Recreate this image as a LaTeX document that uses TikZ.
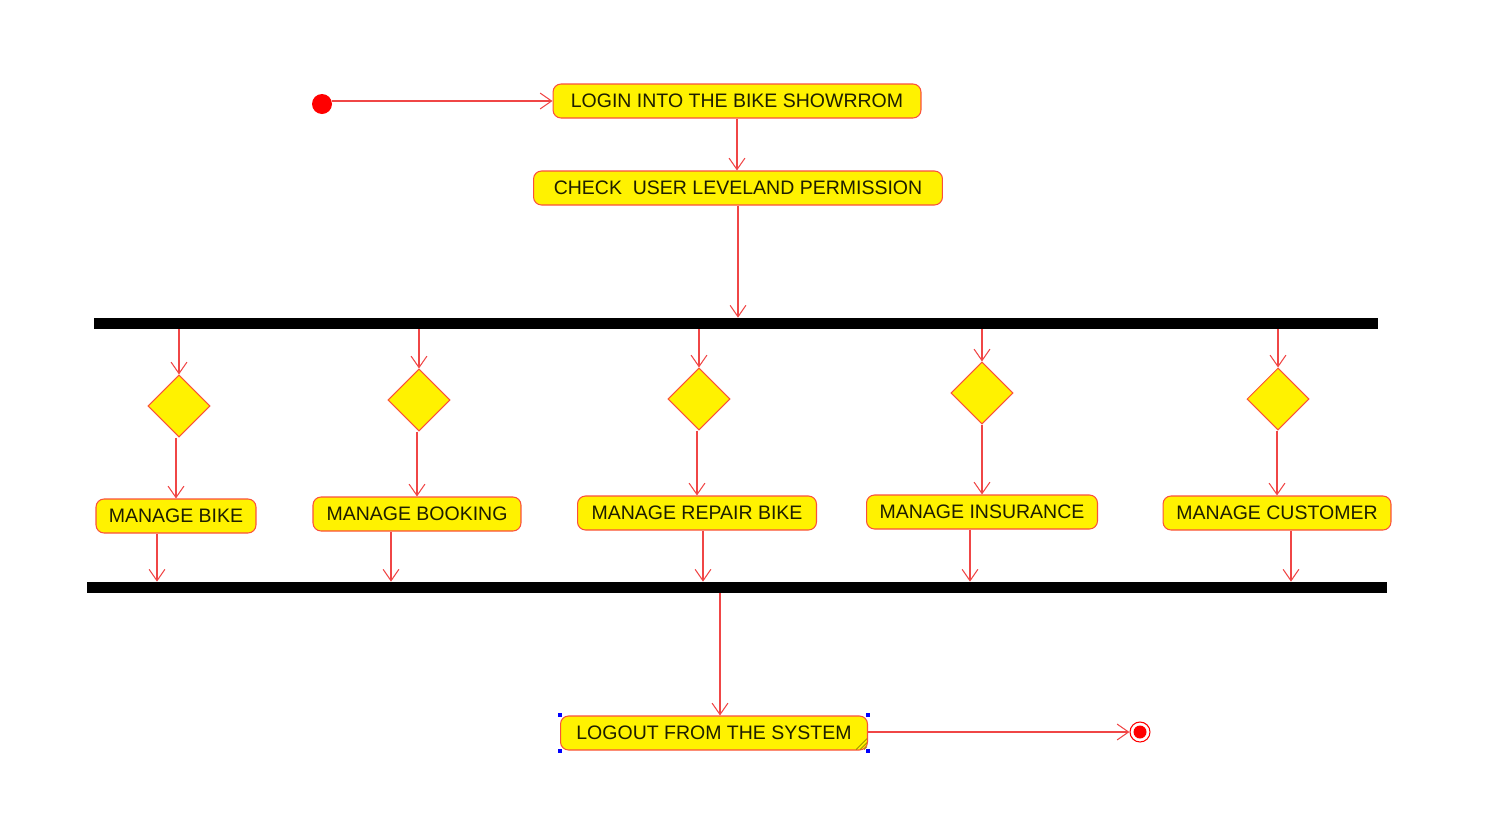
\documentclass[tikz,border=0pt]{standalone}
\usepackage{fontspec}
\setmainfont{Liberation Sans}
\usetikzlibrary{arrows.meta,shapes.geometric}

\definecolor{flowred}{RGB}{240,70,70}
\definecolor{boxred}{RGB}{250,80,60}
\definecolor{inktext}{RGB}{30,30,0}

\tikzset{
  act/.style={rectangle, rounded corners=0.16cm, draw=boxred, fill=yellow, line width=0.6pt,
    minimum height=0.68cm, inner sep=0pt, text=inktext, font=\fontsize{11.1}{13}\selectfont},
  choice/.style={diamond, draw=boxred, fill=yellow, line width=0.6pt,
    minimum width=1.24cm, minimum height=1.24cm, inner sep=0pt},
  bar/.style={rectangle, fill=black, minimum height=0.22cm, inner sep=0pt},
  startst/.style={circle, fill=red, minimum size=0.4cm, inner sep=0pt},
  endst/.style={circle, draw=red, fill=white, line width=0.6pt, minimum size=0.4cm, inner sep=0pt,
    path picture={\fill[red] (path picture bounding box.center) circle (0.13cm);}},
  flow/.style={draw=flowred, line width=0.6pt, -{Straight Barb[length=6.5pt,width=9pt]}},
}

\begin{document}
\begin{tikzpicture}[x=0.02cm, y=-0.02cm]
    \useasboundingbox (0,0) rectangle (1488,836);
    % top
    \node[startst] (init) at (322,104) {};
    \node[act, minimum width=7.36cm] (login) at (737,101) {LOGIN INTO THE BIKE SHOWRROM};
    \node[act, minimum width=8.18cm] (check) at (738,188) {CHECK\ \ USER LEVELAND PERMISSION};
    \node[bar, minimum width=25.68cm] (bar1) at (736,323.5) {};
    % decisions and activities
    \node[choice] (d1) at (179,406) {};
    \node[choice] (d2) at (419,400) {};
    \node[choice] (d3) at (699,399) {};
    \node[choice] (d4) at (982,393) {};
    \node[choice] (d5) at (1278,399) {};
    \node[act, minimum width=3.2cm] (b1) at (176,516) {MANAGE BIKE};
    \node[act, minimum width=4.16cm] (b2) at (417,514) {MANAGE BOOKING};
    \node[act, minimum width=4.78cm] (b3) at (697,513) {MANAGE REPAIR BIKE};
    \node[act, minimum width=4.62cm] (b4) at (982,512) {MANAGE INSURANCE};
    \node[act, minimum width=4.56cm] (b5) at (1277,513) {MANAGE CUSTOMER};
    \node[bar, minimum width=26cm] (bar2) at (737,587.5) {};
    % bottom
    \node[act, minimum width=6.14cm] (logout) at (714,733) {LOGOUT FROM THE SYSTEM};
    \node[endst] (final) at (1140,732) {};

    \draw[flow] (init.east |- login.west) -- (login.west);
    \draw[flow] (login.south) -- (login.south |- check.north);
    \draw[flow] (check.south) -- (check.south |- bar1.north);
    \foreach \d/\b/\dx in {d1/b1/-19, d2/b2/-26, d3/b3/6, d4/b4/-12, d5/b5/14} {
        \draw[flow] (\d.north |- bar1.south) -- (\d.north);
        \draw[flow] (\b.north |- \d.south) -- (\b.north);
        \path (\b.south) ++(\dx,0) coordinate (\b-out);
        \draw[flow] (\b-out) -- (\b-out |- bar2.north);
    }
    \path (logout.north) ++(6,0) coordinate (lin);
    \draw[flow] (lin |- bar2.south) -- (lin);
    \draw[flow] (logout.east |- final) -- (final.west);

    % selection marks on logout
    \foreach \a in {north west, north east, south west, south east}
        \fill[blue] (logout.\a) +(-2,-2) rectangle +(2,2);
    \foreach \k in {4,8,12}
        \draw[olive, line width=0.4pt] (logout.south east) ++(-\k,-1) -- ++({\k-1},{1-\k});
\end{tikzpicture}
\end{document}
